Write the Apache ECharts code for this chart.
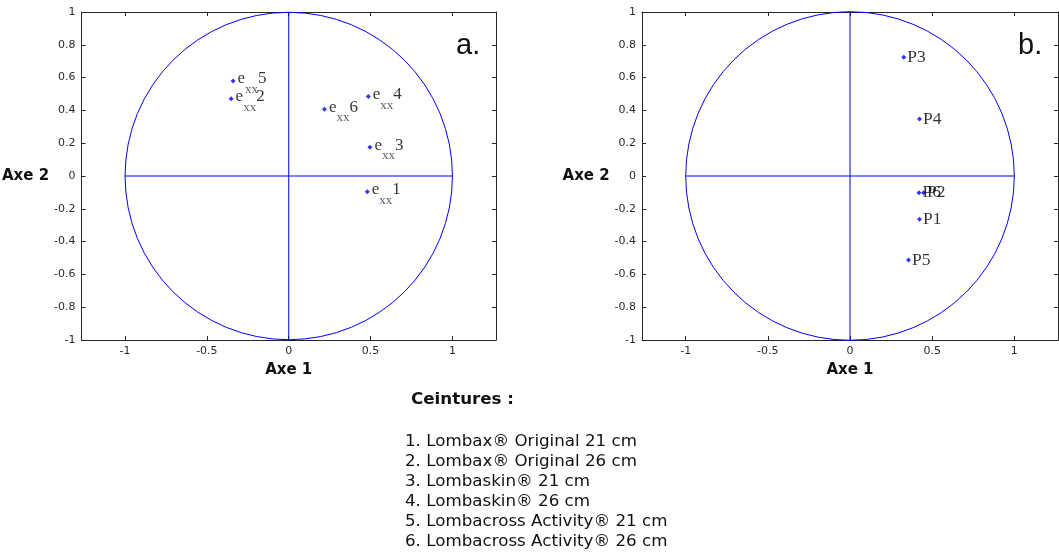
<!DOCTYPE html>
<html>
<head>
<meta charset="utf-8">
<script src="https://cdn.jsdelivr.net/npm/echarts@6/dist/echarts.min.js"></script>
<style>
  html, body { margin: 0; padding: 0; background: #fff; }
  #chart { width: 1059px; height: 554px; }
</style>
</head>
<body>
<div id="chart"></div>
<script>
// cercle des correlations (a.) : variables e_xx1 .. e_xx6
var varNames = ['1', '2', '3', '4', '5', '6'];
var varX = [0.48, -0.352, 0.496, 0.486, -0.34, 0.218];
var varY = [-0.096, 0.471, 0.175, 0.484, 0.58, 0.407];

// plan des individus (b.) : P1 .. P6
var indNames = ['P1', 'P2', 'P3', 'P4', 'P5', 'P6'];
var indX = [0.423, 0.448, 0.327, 0.423, 0.356, 0.42];
var indY = [-0.264, -0.102, 0.724, 0.348, -0.512, -0.102];

var xTicks = [-1, -0.5, 0, 0.5, 1];
var yTicks = [-1, -0.8, -0.6, -0.4, -0.2, 0, 0.2, 0.4, 0.6, 0.8, 1];
var xLim = 1.266;
var yLim = 1;

var unitCircle = [[0, 0, 1]];               // centre x, centre y, rayon
var crossLines = [[-1, 0, 1, 0], [0, -1, 0, 1]];

var ceintures = [
  '1. Lombax® Original 21 cm',
  '2. Lombax® Original 26 cm',
  '3. Lombaskin® 21 cm',
  '4. Lombaskin® 26 cm',
  '5. Lombacross Activity® 21 cm',
  '6. Lombacross Activity® 26 cm'
];

var BLUE = '#0000ff';
var AXIS = '#262626';
var TICKFONT = { fontFamily: 'DejaVu Sans', fontSize: 11, color: '#2a2a2a' };

var myChart = echarts.init(document.getElementById('chart'));

function renderRing(params, api) {
  var c = api.coord([api.value(0), api.value(1)]);
  var r = api.size([api.value(2), api.value(2)]);
  return {
    type: 'circle',
    shape: { cx: c[0], cy: c[1], r: r[0] },
    style: { fill: 'none', stroke: BLUE, lineWidth: 1 }
  };
}

function renderCross(params, api) {
  var p1 = api.coord([api.value(0), api.value(1)]);
  var p2 = api.coord([api.value(2), api.value(3)]);
  return {
    type: 'line',
    shape: { x1: p1[0], y1: p1[1], x2: p2[0], y2: p2[1] },
    style: { stroke: BLUE, lineWidth: 1 }
  };
}

function xAxisFor(g, pos) {
  var bottom = pos === 'bottom';
  return {
    gridIndex: g, type: 'value', position: pos,
    min: -xLim, max: xLim,
    axisLine: { show: true, onZero: false, lineStyle: { color: AXIS, width: 1 } },
    axisTick: { show: true, inside: true, length: 4, customValues: xTicks, lineStyle: { color: AXIS } },
    axisLabel: Object.assign({ show: bottom, margin: 6, customValues: xTicks }, TICKFONT),
    splitLine: { show: false },
    name: bottom ? 'Axe 1' : '',
    nameLocation: 'middle', nameGap: 23,
    nameTextStyle: { fontFamily: 'DejaVu Sans', fontWeight: 'bold', fontSize: 15, color: '#111' }
  };
}

function yAxisFor(g, pos) {
  var left = pos === 'left';
  return {
    gridIndex: g, type: 'value', position: pos,
    min: -yLim, max: yLim,
    axisLine: { show: true, onZero: false, lineStyle: { color: AXIS, width: 1 } },
    axisTick: { show: true, inside: true, length: 4, customValues: yTicks, lineStyle: { color: AXIS } },
    axisLabel: Object.assign({ show: left, margin: 6, customValues: yTicks }, TICKFONT),
    splitLine: { show: false },
    name: left ? 'Axe 2' : '',
    nameLocation: 'middle', nameGap: 10, nameRotate: 0,
    nameTextStyle: { fontFamily: 'DejaVu Sans', fontWeight: 'bold', fontSize: 15, color: '#111' }
  };
}

function frameSeries(g) {
  return [
    { type: 'custom', xAxisIndex: g * 2, yAxisIndex: g * 2, renderItem: renderRing,
      data: unitCircle, clip: false, silent: true, z: 1 },
    { type: 'custom', xAxisIndex: g * 2, yAxisIndex: g * 2, renderItem: renderCross,
      encode: { x: [0, 2], y: [1, 3] },
      data: crossLines, clip: false, silent: true, z: 1 }
  ];
}

var legendTexts = ceintures.map(function (t, i) {
  return {
    type: 'text', left: 405, top: 433 + i * 20,
    style: { text: t, fontFamily: 'DejaVu Sans', fontSize: 16.7, fill: '#111' }
  };
});

option = {
  backgroundColor: '#fff',
  animation: false,
  grid: [
    { left: 81, top: 12, width: 415, height: 328 },
    { left: 642, top: 12, width: 416, height: 328 }
  ],
  xAxis: [xAxisFor(0, 'bottom'), xAxisFor(0, 'top'), xAxisFor(1, 'bottom'), xAxisFor(1, 'top')],
  yAxis: [yAxisFor(0, 'left'), yAxisFor(0, 'right'), yAxisFor(1, 'left'), yAxisFor(1, 'right')],
  graphic: [
    { type: 'text', left: 456, top: 31, style: { text: 'a.', fontFamily: 'Liberation Sans', fontSize: 29, fill: '#111' } },
    { type: 'text', left: 1018, top: 31, style: { text: 'b.', fontFamily: 'Liberation Sans', fontSize: 29, fill: '#111' } },
    { type: 'text', left: 411, top: 391, style: { text: 'Ceintures :', fontFamily: 'DejaVu Sans', fontWeight: 'bold', fontSize: 16.7, fill: '#111' } }
  ].concat(legendTexts),
  series: frameSeries(0).concat(frameSeries(1)).concat([
    {
      type: 'scatter', xAxisIndex: 0, yAxisIndex: 0,
      symbol: 'diamond', symbolSize: 5,
      itemStyle: { color: BLUE },
      data: varX.map(function (x, i) { return [x, varY[i], varNames[i]]; }),
      label: {
        show: true, position: 'right', distance: 2, offset: [0, -2],
        formatter: function (p) { return '{e|e}{s|xx}{n|' + p.data[2] + '}'; },
        rich: {
          e: { fontFamily: 'Liberation Serif', fontSize: 17, color: '#000', lineHeight: 34, verticalAlign: 'middle' },
          s: { fontFamily: 'Liberation Serif', fontSize: 13, color: '#333', lineHeight: 13, verticalAlign: 'bottom' },
          n: { fontFamily: 'Liberation Serif', fontSize: 17, color: '#000', lineHeight: 34, verticalAlign: 'middle' }
        }
      },
      z: 3
    },
    {
      type: 'scatter', xAxisIndex: 2, yAxisIndex: 2,
      symbol: 'diamond', symbolSize: 5,
      itemStyle: { color: BLUE },
      data: indX.map(function (x, i) { return [x, indY[i], indNames[i]]; }),
      label: {
        show: true, position: 'right', distance: 1,
        formatter: function (p) { return p.data[2]; },
        fontFamily: 'Liberation Serif', fontSize: 17.5, color: '#000'
      },
      z: 3
    }
  ])
};

myChart.setOption(option);
</script>
</body>
</html>
